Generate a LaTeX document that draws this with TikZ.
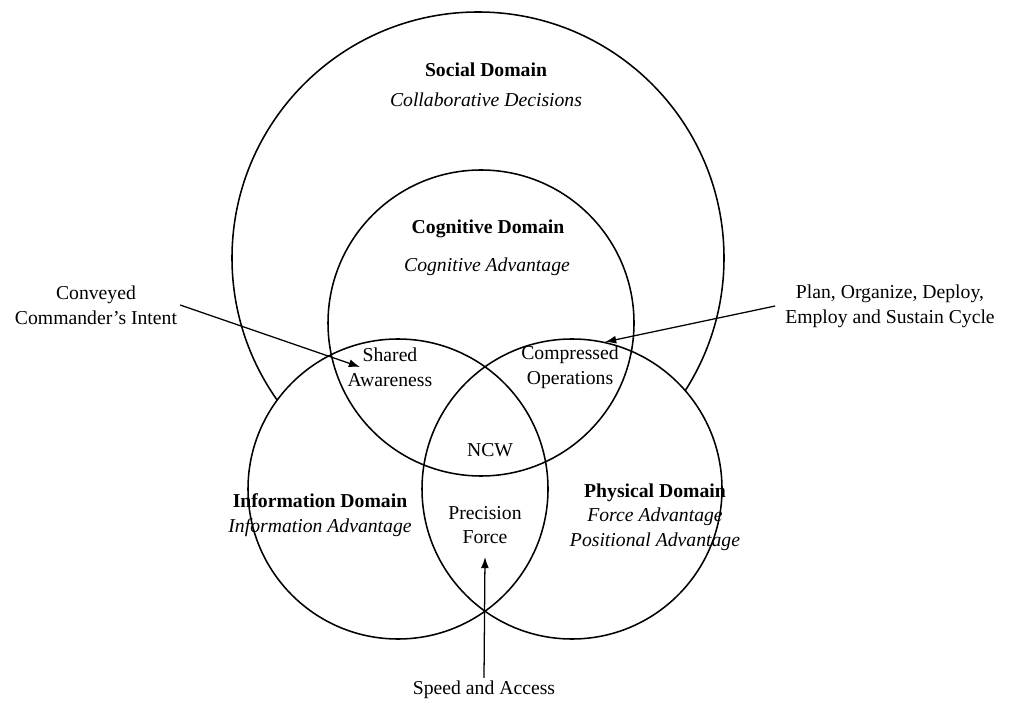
\documentclass[tikz,border=0pt]{standalone}
\usepackage{fontspec}
\setmainfont{Liberation Serif}
\usetikzlibrary{arrows.meta}

\begin{document}
\begin{tikzpicture}[x=0.025cm,y=-0.025cm,>={Latex[length=2.8mm,width=2mm]},
	ring/.style={line width=1.1pt},
	pointer/.style={->,line width=0.9pt},
	lbl/.style={align=center,inner sep=2pt,font=\fontsize{14}{17.5}\selectfont}]
	\useasboundingbox (0,0) rectangle (1010,707);

	% domain circles
	\coordinate (soc) at (478,258);
	\coordinate (cog) at (481,323);
	\coordinate (inf) at (398,489);
	\coordinate (phy) at (572,489);

	\draw[ring] (soc) circle [radius=246];
	\fill[white] (inf) circle [radius=150] (phy) circle [radius=150];
	\draw[ring] (cog) circle [radius=153];
	\draw[ring] (inf) circle [radius=150];
	\draw[ring] (phy) circle [radius=150];

	% labels inside
	\node[lbl] (socname) at (486,70) {\textbf{Social Domain}};
	\node[lbl] (socadv) at (486,100) {\textit{Collaborative Decisions}};
	\node[lbl] (cogname) at (488,229) {\textbf{Cognitive Domain}};
	\node[lbl] (cogadv) at (487,267) {\textit{Cognitive Advantage}};
	\node[lbl] (shared) at (390,367) {Shared\\Awareness};
	\node[lbl] (compressed) at (570,367) {Compressed\\Operations};
	\node[lbl] (ncw) at (490,450) {NCW};
	\node[lbl] (precision) at (485,525) {Precision\\Force};
	\node[lbl] (infname) at (320,515) {\textbf{Information Domain}\\\textit{Information Advantage}};
	\node[lbl] (phyname) at (655,517) {\textbf{Physical Domain}\\\textit{Force Advantage}\\\textit{Positional Advantage}};

	% labels outside
	\node[lbl] (intent) at (96,305) {Conveyed\\Commander's Intent};
	\node[lbl] (plan) at (890,306) {Plan, Organize, Deploy,\\Employ and Sustain Cycle};
	\node[lbl] (speed) at (484,690) {Speed and Access};

	\coordinate (sharedtip) at (360,367);
	\coordinate (compressedtip) at (605,342);
	\coordinate (precisiontip) at (485,557);

	\draw [pointer] (intent.east) -- (sharedtip);
	\draw [pointer] ([xshift=-5pt]plan.west) -- (compressedtip);
	\draw [pointer] (speed.north) -- (precisiontip);

\end{tikzpicture}
\end{document}
